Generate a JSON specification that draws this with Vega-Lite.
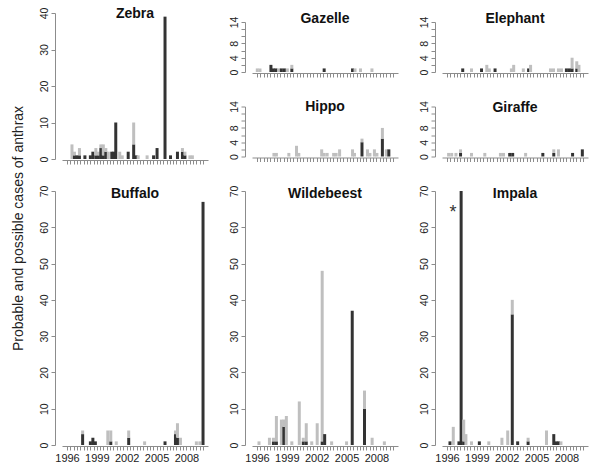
{
"$schema": "https://vega.github.io/schema/vega-lite/v6.json",
"padding": {"left": 10, "top": 7, "right": 2, "bottom": 2},
"background": "white",
"config": {
  "view": {"stroke": null},
  "font": "Liberation Sans",
  "axis": {"domainColor": "#8c8c8c", "tickColor": "#8c8c8c", "labelColor": "#222222", "labelFont": "Liberation Sans", "labelFontSize": 11, "tickSize": 4, "grid": false, "title": null},
  "axisX": {"offset": 1, "labelFlush": false, "labelOverlap": false, "labelPadding": 2},
  "axisY": {"offset": 7, "labelAngle": 270, "labelFontSize": 10.5, "labelPadding": 2, "labelOverlap": false},
  "title": {"font": "Liberation Sans", "fontSize": 14, "fontWeight": "bold", "color": "#111111", "anchor": "middle", "frame": "group", "baseline": "alphabetic"}
},
"datasets": {
  "notes": [{"t": 1996.6, "n": 64, "label": "*"}],
  "cases": [
    {"s":"Zebra","t":1996.5,"type":"possible","n":4},
    {"s":"Zebra","t":1996.75,"type":"probable","n":1},{"s":"Zebra","t":1996.75,"type":"possible","n":1},
    {"s":"Zebra","t":1997.0,"type":"probable","n":1},
    {"s":"Zebra","t":1997.25,"type":"probable","n":1},{"s":"Zebra","t":1997.25,"type":"possible","n":2},
    {"s":"Zebra","t":1997.8,"type":"probable","n":1},
    {"s":"Zebra","t":1998.35,"type":"probable","n":1},
    {"s":"Zebra","t":1998.6,"type":"probable","n":2},
    {"s":"Zebra","t":1998.9,"type":"probable","n":1},{"s":"Zebra","t":1998.9,"type":"possible","n":2},
    {"s":"Zebra","t":1999.15,"type":"probable","n":1},{"s":"Zebra","t":1999.15,"type":"possible","n":1},
    {"s":"Zebra","t":1999.4,"type":"probable","n":3},{"s":"Zebra","t":1999.4,"type":"possible","n":1},
    {"s":"Zebra","t":1999.65,"type":"probable","n":1},{"s":"Zebra","t":1999.65,"type":"possible","n":3},
    {"s":"Zebra","t":1999.9,"type":"probable","n":2},{"s":"Zebra","t":1999.9,"type":"possible","n":1},
    {"s":"Zebra","t":2000.15,"type":"possible","n":2},
    {"s":"Zebra","t":2000.5,"type":"probable","n":2},
    {"s":"Zebra","t":2000.7,"type":"probable","n":2},
    {"s":"Zebra","t":2000.9,"type":"probable","n":10},
    {"s":"Zebra","t":2001.3,"type":"possible","n":2},
    {"s":"Zebra","t":2001.55,"type":"possible","n":1},
    {"s":"Zebra","t":2002.15,"type":"probable","n":2},
    {"s":"Zebra","t":2002.7,"type":"probable","n":4},{"s":"Zebra","t":2002.7,"type":"possible","n":6},
    {"s":"Zebra","t":2002.95,"type":"probable","n":1},
    {"s":"Zebra","t":2003.15,"type":"possible","n":1},
    {"s":"Zebra","t":2004.05,"type":"possible","n":1},
    {"s":"Zebra","t":2004.7,"type":"probable","n":1},
    {"s":"Zebra","t":2005.05,"type":"probable","n":3},
    {"s":"Zebra","t":2005.85,"type":"probable","n":39},
    {"s":"Zebra","t":2006.4,"type":"probable","n":1},
    {"s":"Zebra","t":2007.1,"type":"probable","n":2},
    {"s":"Zebra","t":2007.6,"type":"probable","n":2},{"s":"Zebra","t":2007.6,"type":"possible","n":1},
    {"s":"Zebra","t":2007.85,"type":"probable","n":1},{"s":"Zebra","t":2007.85,"type":"possible","n":1},
    {"s":"Zebra","t":2008.35,"type":"possible","n":1},
    {"s":"Zebra","t":2008.6,"type":"possible","n":1},

    {"s":"Buffalo","t":1997.57,"type":"probable","n":3},{"s":"Buffalo","t":1997.57,"type":"possible","n":1},
    {"s":"Buffalo","t":1998.35,"type":"probable","n":1},
    {"s":"Buffalo","t":1998.6,"type":"probable","n":2},
    {"s":"Buffalo","t":1998.85,"type":"probable","n":1},
    {"s":"Buffalo","t":2000.1,"type":"possible","n":4},
    {"s":"Buffalo","t":2000.4,"type":"probable","n":1},{"s":"Buffalo","t":2000.4,"type":"possible","n":3},
    {"s":"Buffalo","t":2000.95,"type":"possible","n":1},
    {"s":"Buffalo","t":2002.2,"type":"probable","n":2},{"s":"Buffalo","t":2002.2,"type":"possible","n":2},
    {"s":"Buffalo","t":2003.8,"type":"possible","n":1},
    {"s":"Buffalo","t":2005.85,"type":"probable","n":1},
    {"s":"Buffalo","t":2006.9,"type":"probable","n":3},{"s":"Buffalo","t":2006.9,"type":"possible","n":1},
    {"s":"Buffalo","t":2007.1,"type":"probable","n":2},{"s":"Buffalo","t":2007.1,"type":"possible","n":4},
    {"s":"Buffalo","t":2007.4,"type":"possible","n":2},
    {"s":"Buffalo","t":2009.0,"type":"possible","n":1},
    {"s":"Buffalo","t":2009.35,"type":"possible","n":1},
    {"s":"Buffalo","t":2009.67,"type":"probable","n":67},

    {"s":"Gazelle","t":1996.03,"type":"possible","n":1},
    {"s":"Gazelle","t":1996.3,"type":"possible","n":1},
    {"s":"Gazelle","t":1997.4,"type":"probable","n":2},
    {"s":"Gazelle","t":1997.65,"type":"probable","n":1},
    {"s":"Gazelle","t":1997.9,"type":"probable","n":1},
    {"s":"Gazelle","t":1998.2,"type":"possible","n":1},
    {"s":"Gazelle","t":1998.45,"type":"probable","n":1},
    {"s":"Gazelle","t":1998.75,"type":"probable","n":1},
    {"s":"Gazelle","t":1999.05,"type":"possible","n":1},
    {"s":"Gazelle","t":1999.5,"type":"probable","n":1},{"s":"Gazelle","t":1999.5,"type":"possible","n":1},
    {"s":"Gazelle","t":2002.75,"type":"probable","n":1},
    {"s":"Gazelle","t":2005.6,"type":"probable","n":1},
    {"s":"Gazelle","t":2005.85,"type":"possible","n":1},
    {"s":"Gazelle","t":2006.4,"type":"possible","n":1},
    {"s":"Gazelle","t":2007.55,"type":"possible","n":1},

    {"s":"Hippo","t":1997.7,"type":"possible","n":1},
    {"s":"Hippo","t":1997.95,"type":"possible","n":1},
    {"s":"Hippo","t":1999.2,"type":"possible","n":1},
    {"s":"Hippo","t":1999.97,"type":"possible","n":3},
    {"s":"Hippo","t":2000.2,"type":"possible","n":1},
    {"s":"Hippo","t":2002.5,"type":"possible","n":2},
    {"s":"Hippo","t":2002.75,"type":"possible","n":1},
    {"s":"Hippo","t":2003.05,"type":"possible","n":1},
    {"s":"Hippo","t":2003.7,"type":"possible","n":1},
    {"s":"Hippo","t":2003.95,"type":"possible","n":1},
    {"s":"Hippo","t":2004.3,"type":"possible","n":2},
    {"s":"Hippo","t":2005.6,"type":"possible","n":2},
    {"s":"Hippo","t":2005.8,"type":"possible","n":1},
    {"s":"Hippo","t":2006.55,"type":"probable","n":4},{"s":"Hippo","t":2006.55,"type":"possible","n":1},
    {"s":"Hippo","t":2007.1,"type":"possible","n":2},
    {"s":"Hippo","t":2007.35,"type":"possible","n":1},
    {"s":"Hippo","t":2007.8,"type":"possible","n":2},
    {"s":"Hippo","t":2008.05,"type":"possible","n":1},
    {"s":"Hippo","t":2008.6,"type":"probable","n":5},{"s":"Hippo","t":2008.6,"type":"possible","n":3},
    {"s":"Hippo","t":2009.0,"type":"possible","n":2},
    {"s":"Hippo","t":2009.25,"type":"probable","n":2},

    {"s":"Wildebeest","t":1996.2,"type":"possible","n":1},
    {"s":"Wildebeest","t":1997.25,"type":"possible","n":2},
    {"s":"Wildebeest","t":1997.65,"type":"probable","n":1},{"s":"Wildebeest","t":1997.65,"type":"possible","n":1},
    {"s":"Wildebeest","t":1997.95,"type":"probable","n":1},{"s":"Wildebeest","t":1997.95,"type":"possible","n":7},
    {"s":"Wildebeest","t":1998.45,"type":"possible","n":7},
    {"s":"Wildebeest","t":1998.7,"type":"probable","n":5},{"s":"Wildebeest","t":1998.7,"type":"possible","n":2},
    {"s":"Wildebeest","t":1998.95,"type":"possible","n":8},
    {"s":"Wildebeest","t":1999.5,"type":"possible","n":1},
    {"s":"Wildebeest","t":2000.25,"type":"possible","n":12},
    {"s":"Wildebeest","t":2000.65,"type":"probable","n":1},{"s":"Wildebeest","t":2000.65,"type":"possible","n":1},
    {"s":"Wildebeest","t":2000.95,"type":"probable","n":1},{"s":"Wildebeest","t":2000.95,"type":"possible","n":5},
    {"s":"Wildebeest","t":2001.5,"type":"possible","n":1},
    {"s":"Wildebeest","t":2002.05,"type":"possible","n":6},
    {"s":"Wildebeest","t":2002.55,"type":"probable","n":1},{"s":"Wildebeest","t":2002.55,"type":"possible","n":47},
    {"s":"Wildebeest","t":2002.8,"type":"probable","n":3},
    {"s":"Wildebeest","t":2003.5,"type":"possible","n":1},
    {"s":"Wildebeest","t":2005.0,"type":"possible","n":1},
    {"s":"Wildebeest","t":2005.57,"type":"probable","n":37},
    {"s":"Wildebeest","t":2006.8,"type":"probable","n":10},{"s":"Wildebeest","t":2006.8,"type":"possible","n":5},
    {"s":"Wildebeest","t":2007.57,"type":"possible","n":2},
    {"s":"Wildebeest","t":2008.8,"type":"possible","n":1},

    {"s":"Elephant","t":1997.58,"type":"probable","n":1},
    {"s":"Elephant","t":1998.46,"type":"possible","n":1},
    {"s":"Elephant","t":1999.47,"type":"probable","n":1},
    {"s":"Elephant","t":2000.0,"type":"possible","n":2},
    {"s":"Elephant","t":2000.25,"type":"possible","n":1},
    {"s":"Elephant","t":2000.83,"type":"probable","n":1},
    {"s":"Elephant","t":2002.47,"type":"possible","n":1},
    {"s":"Elephant","t":2002.7,"type":"possible","n":2},
    {"s":"Elephant","t":2003.67,"type":"possible","n":1},
    {"s":"Elephant","t":2004.2,"type":"probable","n":1},
    {"s":"Elephant","t":2004.4,"type":"possible","n":2},
    {"s":"Elephant","t":2006.4,"type":"possible","n":1},
    {"s":"Elephant","t":2006.7,"type":"possible","n":1},
    {"s":"Elephant","t":2007.2,"type":"possible","n":1},
    {"s":"Elephant","t":2007.5,"type":"possible","n":1},
    {"s":"Elephant","t":2008.0,"type":"probable","n":1},
    {"s":"Elephant","t":2008.3,"type":"probable","n":1},
    {"s":"Elephant","t":2008.57,"type":"probable","n":1},{"s":"Elephant","t":2008.57,"type":"possible","n":3},
    {"s":"Elephant","t":2009.04,"type":"probable","n":1},{"s":"Elephant","t":2009.04,"type":"possible","n":2},
    {"s":"Elephant","t":2009.26,"type":"possible","n":2},

    {"s":"Giraffe","t":1996.16,"type":"possible","n":1},
    {"s":"Giraffe","t":1996.47,"type":"possible","n":1},
    {"s":"Giraffe","t":1996.9,"type":"possible","n":1},
    {"s":"Giraffe","t":1997.36,"type":"probable","n":1},{"s":"Giraffe","t":1997.36,"type":"possible","n":1},
    {"s":"Giraffe","t":1998.46,"type":"possible","n":1},
    {"s":"Giraffe","t":1999.8,"type":"possible","n":1},
    {"s":"Giraffe","t":2001.37,"type":"possible","n":1},
    {"s":"Giraffe","t":2001.68,"type":"possible","n":1},
    {"s":"Giraffe","t":2002.3,"type":"probable","n":1},
    {"s":"Giraffe","t":2002.6,"type":"probable","n":1},
    {"s":"Giraffe","t":2003.9,"type":"possible","n":1},
    {"s":"Giraffe","t":2005.63,"type":"probable","n":1},
    {"s":"Giraffe","t":2006.73,"type":"probable","n":1},{"s":"Giraffe","t":2006.73,"type":"possible","n":1},
    {"s":"Giraffe","t":2007.2,"type":"possible","n":2},
    {"s":"Giraffe","t":2008.62,"type":"probable","n":1},
    {"s":"Giraffe","t":2009.6,"type":"probable","n":2},

    {"s":"Impala","t":1996.3,"type":"probable","n":1},
    {"s":"Impala","t":1996.63,"type":"possible","n":5},
    {"s":"Impala","t":1997.2,"type":"probable","n":1},
    {"s":"Impala","t":1997.42,"type":"probable","n":70},
    {"s":"Impala","t":1997.68,"type":"probable","n":1},{"s":"Impala","t":1997.68,"type":"possible","n":6},
    {"s":"Impala","t":1997.9,"type":"possible","n":3},
    {"s":"Impala","t":1998.46,"type":"possible","n":1},
    {"s":"Impala","t":1999.25,"type":"probable","n":1},
    {"s":"Impala","t":2000.2,"type":"possible","n":1},
    {"s":"Impala","t":2001.52,"type":"possible","n":2},
    {"s":"Impala","t":2002.1,"type":"possible","n":4},
    {"s":"Impala","t":2002.56,"type":"probable","n":36},{"s":"Impala","t":2002.56,"type":"possible","n":4},
    {"s":"Impala","t":2003.1,"type":"probable","n":1},
    {"s":"Impala","t":2004.15,"type":"probable","n":1},{"s":"Impala","t":2004.15,"type":"possible","n":1},
    {"s":"Impala","t":2006.0,"type":"possible","n":4},
    {"s":"Impala","t":2006.73,"type":"probable","n":3},
    {"s":"Impala","t":2006.95,"type":"probable","n":1},
    {"s":"Impala","t":2007.2,"type":"probable","n":1},
    {"s":"Impala","t":2007.45,"type":"possible","n":1}
  ]
},
"spacing": 21,
"hconcat": [
  {
    "bounds": "flush",
    "spacing": 32,
    "vconcat": [
      {
        "title": {"text": "Zebra", "offset": -14.15},
        "width": 146, "height": 146,
        "data": {"name": "cases"},
        "transform": [{"filter": "datum.s === 'Zebra'"}],
        "mark": {"type": "bar", "size": 3},
        "encoding": {
          "x": {"field": "t", "type": "quantitative", "scale": {"domain": [1996, 2009.6667], "nice": false, "zero": false}, "axis": {"values": [1996,1996.3333,1996.6667,1997,1997.3333,1997.6667,1998,1998.3333,1998.6667,1999,1999.3333,1999.6667,2000,2000.3333,2000.6667,2001,2001.3333,2001.6667,2002,2002.3333,2002.6667,2003,2003.3333,2003.6667,2004,2004.3333,2004.6667,2005,2005.3333,2005.6667,2006,2006.3333,2006.6667,2007,2007.3333,2007.6667,2008,2008.3333,2008.6667,2009,2009.3333,2009.6667], "labels": false}},
          "y": {"field": "n", "type": "quantitative", "scale": {"domain": [0, 40], "nice": false}, "axis": {"values": [0, 10, 20, 30, 40], "title": "Probable and possible cases of anthrax", "titleFont": "Liberation Sans", "titleFontSize": 14, "titleFontWeight": "normal", "titleColor": "#222222", "titleAngle": 270, "titleAlign": "center", "titleBaseline": "middle", "titleX": -37, "titleY": 215}},
          "color": {"field": "type", "type": "nominal", "scale": {"domain": ["probable", "possible"], "range": ["#333333", "#bfbfbf"]}, "legend": null},
          "order": {"field": "type", "sort": "descending"}
        }
      },
      {
        "title": {"text": "Buffalo", "offset": -15.85},
        "width": 146, "height": 254,
        "data": {"name": "cases"},
        "transform": [{"filter": "datum.s === 'Buffalo'"}],
        "mark": {"type": "bar", "size": 3},
        "encoding": {
          "x": {"field": "t", "type": "quantitative", "scale": {"domain": [1996, 2009.6667], "nice": false, "zero": false}, "axis": {"values": [1996,1996.3333,1996.6667,1997,1997.3333,1997.6667,1998,1998.3333,1998.6667,1999,1999.3333,1999.6667,2000,2000.3333,2000.6667,2001,2001.3333,2001.6667,2002,2002.3333,2002.6667,2003,2003.3333,2003.6667,2004,2004.3333,2004.6667,2005,2005.3333,2005.6667,2006,2006.3333,2006.6667,2007,2007.3333,2007.6667,2008,2008.3333,2008.6667,2009,2009.3333,2009.6667], "labelExpr": "abs((datum.value - 1996) / 3 - round((datum.value - 1996) / 3)) < 0.01 ? format(datum.value, 'd') : ''"}},
          "y": {"field": "n", "type": "quantitative", "scale": {"domain": [0, 70], "nice": false}, "axis": {"values": [0, 10, 20, 30, 40, 50, 60, 70]}},
          "color": {"field": "type", "type": "nominal", "scale": {"domain": ["probable", "possible"], "range": ["#333333", "#bfbfbf"]}, "legend": null},
          "order": {"field": "type", "sort": "descending"}
        }
      }
    ]
  },
  {
    "bounds": "flush",
    "spacing": 34.5,
    "vconcat": [
      {
        "title": {"text": "Gazelle", "offset": -12.95},
        "width": 146, "height": 59,
        "data": {"name": "cases"},
        "transform": [{"filter": "datum.s === 'Gazelle'"}],
        "mark": {"type": "bar", "size": 3},
        "encoding": {
          "x": {"field": "t", "type": "quantitative", "scale": {"domain": [1996, 2009.6667], "nice": false, "zero": false}, "axis": {"values": [1996,1996.3333,1996.6667,1997,1997.3333,1997.6667,1998,1998.3333,1998.6667,1999,1999.3333,1999.6667,2000,2000.3333,2000.6667,2001,2001.3333,2001.6667,2002,2002.3333,2002.6667,2003,2003.3333,2003.6667,2004,2004.3333,2004.6667,2005,2005.3333,2005.6667,2006,2006.3333,2006.6667,2007,2007.3333,2007.6667,2008,2008.3333,2008.6667,2009,2009.3333,2009.6667], "labels": false}},
          "y": {"field": "n", "type": "quantitative", "scale": {"domain": [0, 16.52], "nice": false}, "axis": {"values": [0, 2, 4, 6, 8, 10, 12, 14], "domainDash": [50, 1000], "labelExpr": "indexof([0, 4, 8, 14], datum.value) >= 0 ? datum.label : ''"}},
          "color": {"field": "type", "type": "nominal", "scale": {"domain": ["probable", "possible"], "range": ["#333333", "#bfbfbf"]}, "legend": null},
          "order": {"field": "type", "sort": "descending"}
        }
      },
      {
        "title": {"text": "Hippo", "offset": -13.5},
        "width": 146, "height": 50,
        "data": {"name": "cases"},
        "transform": [{"filter": "datum.s === 'Hippo'"}],
        "mark": {"type": "bar", "size": 3},
        "encoding": {
          "x": {"field": "t", "type": "quantitative", "scale": {"domain": [1996, 2009.6667], "nice": false, "zero": false}, "axis": {"values": [1996,1996.3333,1996.6667,1997,1997.3333,1997.6667,1998,1998.3333,1998.6667,1999,1999.3333,1999.6667,2000,2000.3333,2000.6667,2001,2001.3333,2001.6667,2002,2002.3333,2002.6667,2003,2003.3333,2003.6667,2004,2004.3333,2004.6667,2005,2005.3333,2005.6667,2006,2006.3333,2006.6667,2007,2007.3333,2007.6667,2008,2008.3333,2008.6667,2009,2009.3333,2009.6667], "labels": false}},
          "y": {"field": "n", "type": "quantitative", "scale": {"domain": [0, 14], "nice": false}, "axis": {"values": [0, 2, 4, 6, 8, 10, 12, 14], "labelExpr": "indexof([0, 4, 8, 14], datum.value) >= 0 ? datum.label : ''"}},
          "color": {"field": "type", "type": "nominal", "scale": {"domain": ["probable", "possible"], "range": ["#333333", "#bfbfbf"]}, "legend": null},
          "order": {"field": "type", "sort": "descending"}
        }
      },
      {
        "title": {"text": "Wildebeest", "offset": -15.85},
        "width": 146, "height": 254,
        "data": {"name": "cases"},
        "transform": [{"filter": "datum.s === 'Wildebeest'"}],
        "mark": {"type": "bar", "size": 3},
        "encoding": {
          "x": {"field": "t", "type": "quantitative", "scale": {"domain": [1996, 2009.6667], "nice": false, "zero": false}, "axis": {"values": [1996,1996.3333,1996.6667,1997,1997.3333,1997.6667,1998,1998.3333,1998.6667,1999,1999.3333,1999.6667,2000,2000.3333,2000.6667,2001,2001.3333,2001.6667,2002,2002.3333,2002.6667,2003,2003.3333,2003.6667,2004,2004.3333,2004.6667,2005,2005.3333,2005.6667,2006,2006.3333,2006.6667,2007,2007.3333,2007.6667,2008,2008.3333,2008.6667,2009,2009.3333,2009.6667], "labelExpr": "abs((datum.value - 1996) / 3 - round((datum.value - 1996) / 3)) < 0.01 ? format(datum.value, 'd') : ''"}},
          "y": {"field": "n", "type": "quantitative", "scale": {"domain": [0, 70], "nice": false}, "axis": {"values": [0, 10, 20, 30, 40, 50, 60, 70]}},
          "color": {"field": "type", "type": "nominal", "scale": {"domain": ["probable", "possible"], "range": ["#333333", "#bfbfbf"]}, "legend": null},
          "order": {"field": "type", "sort": "descending"}
        }
      }
    ]
  },
  {
    "bounds": "flush",
    "spacing": 34.5,
    "vconcat": [
      {
        "title": {"text": "Elephant", "offset": -13.35},
        "width": 146, "height": 59,
        "data": {"name": "cases"},
        "transform": [{"filter": "datum.s === 'Elephant'"}],
        "mark": {"type": "bar", "size": 3},
        "encoding": {
          "x": {"field": "t", "type": "quantitative", "scale": {"domain": [1996, 2009.6667], "nice": false, "zero": false}, "axis": {"values": [1996,1996.3333,1996.6667,1997,1997.3333,1997.6667,1998,1998.3333,1998.6667,1999,1999.3333,1999.6667,2000,2000.3333,2000.6667,2001,2001.3333,2001.6667,2002,2002.3333,2002.6667,2003,2003.3333,2003.6667,2004,2004.3333,2004.6667,2005,2005.3333,2005.6667,2006,2006.3333,2006.6667,2007,2007.3333,2007.6667,2008,2008.3333,2008.6667,2009,2009.3333,2009.6667], "labels": false}},
          "y": {"field": "n", "type": "quantitative", "scale": {"domain": [0, 16.52], "nice": false}, "axis": {"values": [0, 2, 4, 6, 8, 10, 12, 14], "domainDash": [50, 1000], "labelExpr": "indexof([0, 4, 8, 14], datum.value) >= 0 ? datum.label : ''"}},
          "color": {"field": "type", "type": "nominal", "scale": {"domain": ["probable", "possible"], "range": ["#333333", "#bfbfbf"]}, "legend": null},
          "order": {"field": "type", "sort": "descending"}
        }
      },
      {
        "title": {"text": "Giraffe", "offset": -14.2},
        "width": 146, "height": 50,
        "data": {"name": "cases"},
        "transform": [{"filter": "datum.s === 'Giraffe'"}],
        "mark": {"type": "bar", "size": 3},
        "encoding": {
          "x": {"field": "t", "type": "quantitative", "scale": {"domain": [1996, 2009.6667], "nice": false, "zero": false}, "axis": {"values": [1996,1996.3333,1996.6667,1997,1997.3333,1997.6667,1998,1998.3333,1998.6667,1999,1999.3333,1999.6667,2000,2000.3333,2000.6667,2001,2001.3333,2001.6667,2002,2002.3333,2002.6667,2003,2003.3333,2003.6667,2004,2004.3333,2004.6667,2005,2005.3333,2005.6667,2006,2006.3333,2006.6667,2007,2007.3333,2007.6667,2008,2008.3333,2008.6667,2009,2009.3333,2009.6667], "labels": false}},
          "y": {"field": "n", "type": "quantitative", "scale": {"domain": [0, 14], "nice": false}, "axis": {"values": [0, 2, 4, 6, 8, 10, 12, 14], "labelExpr": "indexof([0, 4, 8, 14], datum.value) >= 0 ? datum.label : ''"}},
          "color": {"field": "type", "type": "nominal", "scale": {"domain": ["probable", "possible"], "range": ["#333333", "#bfbfbf"]}, "legend": null},
          "order": {"field": "type", "sort": "descending"}
        }
      },
      {
        "title": {"text": "Impala", "offset": -15.85},
        "width": 146, "height": 254,
        "encoding": {
          "x": {"field": "t", "type": "quantitative", "scale": {"domain": [1996, 2009.6667], "nice": false, "zero": false}, "axis": {"values": [1996,1996.3333,1996.6667,1997,1997.3333,1997.6667,1998,1998.3333,1998.6667,1999,1999.3333,1999.6667,2000,2000.3333,2000.6667,2001,2001.3333,2001.6667,2002,2002.3333,2002.6667,2003,2003.3333,2003.6667,2004,2004.3333,2004.6667,2005,2005.3333,2005.6667,2006,2006.3333,2006.6667,2007,2007.3333,2007.6667,2008,2008.3333,2008.6667,2009,2009.3333,2009.6667], "labelExpr": "abs((datum.value - 1996) / 3 - round((datum.value - 1996) / 3)) < 0.01 ? format(datum.value, 'd') : ''"}},
          "y": {"field": "n", "type": "quantitative", "scale": {"domain": [0, 70], "nice": false}, "axis": {"values": [0, 10, 20, 30, 40, 50, 60, 70]}}
        },
        "layer": [
          {
            "data": {"name": "cases"},
            "transform": [{"filter": "datum.s === 'Impala'"}],
            "mark": {"type": "bar", "size": 3},
            "encoding": {
              "color": {"field": "type", "type": "nominal", "scale": {"domain": ["probable", "possible"], "range": ["#333333", "#bfbfbf"]}, "legend": null},
              "order": {"field": "type", "sort": "descending"}
            }
          },
          {
            "data": {"name": "notes"},
            "mark": {"type": "text", "font": "Liberation Sans", "fontSize": 18, "color": "#333333", "baseline": "middle"},
            "encoding": {"text": {"field": "label"}}
          }
        ]
      }
    ]
  }
]
}
